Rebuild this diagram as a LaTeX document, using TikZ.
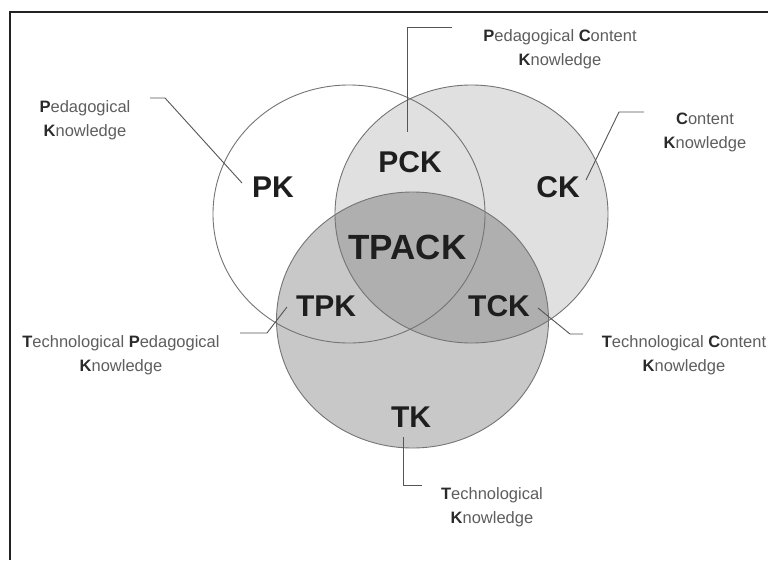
\documentclass[tikz,border=0pt]{standalone}
\usepackage{fontspec}
\setmainfont{Liberation Sans}
\definecolor{ringgray}{HTML}{747474}
\definecolor{leadgray}{HTML}{555555}
\definecolor{tagblack}{HTML}{1E1E1E}
\definecolor{descgray}{HTML}{5E5E5E}
\definecolor{initdark}{HTML}{2A2A2A}
\definecolor{framedark}{HTML}{222222}
\newcommand\initl[1]{{\bfseries\color{initdark}#1}}
\begin{document}
\begin{tikzpicture}[x=1pt,y=-1pt,
  ring/.style={draw=ringgray, line width=0.9pt},
  tag/.style={font=\bfseries\fontsize{30}{30}\selectfont, text=tagblack, inner sep=0pt},
  bigtag/.style={tag, font=\bfseries\fontsize{35}{35}\selectfont},
  desc/.style={align=center, font=\fontsize{16.5}{24}\selectfont, text=descgray, inner sep=0pt},
  leader/.style={draw=leadgray, line width=0.9pt}]
\useasboundingbox (0,0) rectangle (768,560);
\clip (0,0) rectangle (768,560);
\fill[white] (0,0) rectangle (768,560);

% frame (left and top edges)
\draw[framedark, line width=2pt] (10,560) -- (10,12) -- (768,12);

% knowledge domains: fills first, outlines on top
\fill[black, fill opacity=0.12] (471.5,214) ellipse [x radius=136.5pt, y radius=129pt];
\fill[black, fill opacity=0.215] (412.5,320) ellipse [x radius=136pt, y radius=128pt];
\draw[ring] (349,214) ellipse [x radius=136pt, y radius=129pt];
\draw[ring] (471.5,214) ellipse [x radius=136.5pt, y radius=129pt];
\draw[ring] (412.5,320) ellipse [x radius=136pt, y radius=128pt];

% region tags
\node[tag] (pk) at (273,187.5) {PK};
\node[tag] (pck) at (410,162) {PCK};
\node[tag] (ck) at (558,187.5) {CK};
\node[bigtag] (tpack) at (407.5,247.5) {TPACK};
\node[tag] (tpk) at (326,306) {TPK};
\node[tag] (tck) at (499,306) {TCK};
\node[tag] (tk) at (411,417.5) {TK};

% descriptions
\node[desc] (dpk) at (85,120) {\initl{P}edagogical\\\initl{K}nowledge};
\node[desc] (dpck) at (560,49.5) {\initl{P}edagogical \initl{C}ontent\\\initl{K}nowledge};
\node[desc] (dck) at (705,132.5) {\initl{C}ontent\\\initl{K}nowledge};
\node[desc] (dtpk) at (121,355.5) {\initl{T}echnological \initl{P}edagogical\\\initl{K}nowledge};
\node[desc] (dtck) at (684,355.5) {\initl{T}echnological \initl{C}ontent\\\initl{K}nowledge};
\node[desc] (dtk) at (492,507) {\initl{T}echnological\\\initl{K}nowledge};

% leader lines
\coordinate (pkA) at (150,98);  \coordinate (pkB) at (165,98);  \coordinate (pkC) at (242,183);
\coordinate (pckA) at (452,27); \coordinate (pckB) at (407,27); \coordinate (pckC) at (407,132);
\coordinate (ckA) at (644,112); \coordinate (ckB) at (619,112); \coordinate (ckC) at (586,180);
\coordinate (tpkA) at (240,333); \coordinate (tpkB) at (267,333); \coordinate (tpkC) at (287,307);
\coordinate (tckA) at (583,334); \coordinate (tckB) at (570,334); \coordinate (tckC) at (538,308);
\coordinate (tkA) at (422,485); \coordinate (tkB) at (403,485); \coordinate (tkC) at (403,437);
\draw[leader] (pkA) -- (pkB) -- (pkC);
\draw[leader] (pckA) -- (pckB) -- (pckC);
\draw[leader] (ckA) -- (ckB) -- (ckC);
\draw[leader] (tpkA) -- (tpkB) -- (tpkC);
\draw[leader] (tckA) -- (tckB) -- (tckC);
\draw[leader] (tkA) -- (tkB) -- (tkC);
\end{tikzpicture}
\end{document}
